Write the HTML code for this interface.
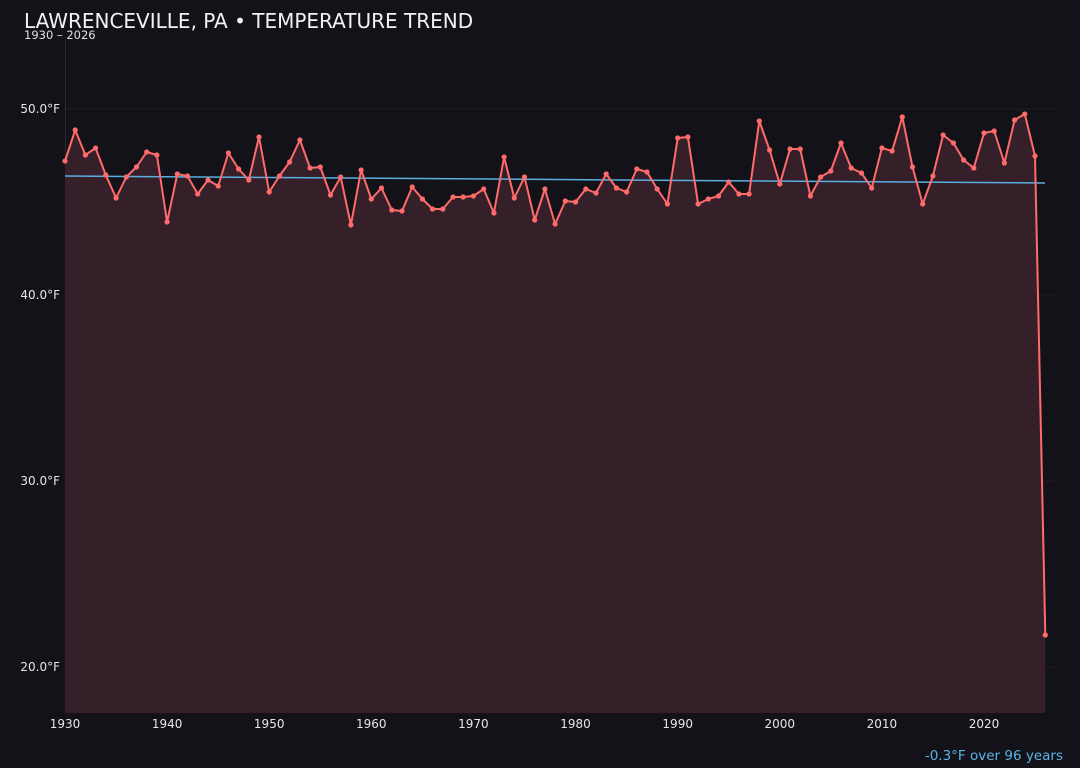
<!DOCTYPE html>
<html><head><meta charset="utf-8"><style>
html,body{margin:0;padding:0;background:#131218;}
body{width:1080px;height:768px;overflow:hidden;font-family:"Liberation Sans","DejaVu Sans",sans-serif;}
</style></head><body>
<svg id="s" width="1080" height="768" xmlns="http://www.w3.org/2000/svg" style="position:absolute;left:0;top:0">
<rect width="1080" height="768" fill="#131218"/>
<text x="24" y="28" fill="#f2f2f2" font-size="20" font-family="DejaVu Sans, sans-serif">LAWRENCEVILLE, PA • TEMPERATURE TREND</text>
<text x="24" y="39" fill="#e0e0e0" font-size="11.5" font-family="DejaVu Sans, sans-serif">1930 – 2026</text>
<g stroke="#221d24" stroke-width="1">
<line x1="65" x2="1055" y1="109" y2="109"/><line x1="65" x2="1055" y1="295" y2="295"/>
<line x1="65" x2="1055" y1="481" y2="481"/><line x1="65" x2="1055" y1="667" y2="667"/>
</g>
<line x1="65.5" x2="65.5" y1="40" y2="713" stroke="#2a2830"/>
<g fill="#e6e6e6" font-size="12" font-family="DejaVu Sans, sans-serif" text-anchor="end">
<text x="60" y="113">50.0°F</text><text x="60" y="299">40.0°F</text>
<text x="60" y="485">30.0°F</text><text x="60" y="671">20.0°F</text>
</g>
<g id="xt" fill="#e6e6e6" font-size="12" font-family="DejaVu Sans, sans-serif" text-anchor="middle"></g>
<path id="area" fill="#35202a"/>
<line x1="65" y1="176" x2="1045" y2="183" stroke="#5aaee0" stroke-width="1.5"/>
<path id="ln" fill="none" stroke="#ff6b6b" stroke-width="2" stroke-linejoin="round"/>
<g id="dots" fill="#ff6b6b"></g>
<text x="1063" y="760" fill="#5ab4e6" font-size="13.5" font-family="DejaVu Sans, sans-serif" text-anchor="end">-0.3°F over 96 years</text>
</svg>
<script>
var ys=[161,130,155,148,175,198,177,167,152,155,222,174,176,194,180,186,153,169,180,137,192,176,162,140,168,167,195,177,225,170,199,188,210,211,187,199,209,209,197,197,196,189,213,157,198,177,220,189,224,201,202,189,193,174,188,192,169,172,189,204,138,137,204,199,196,182,194,194,121,150,184,149,149,196,177,171,143,168,173,188,148,151,117,167,204,176,135,143,160,168,133,131,163,120,114,156,635];
var d="",dots="",ns="http://www.w3.org/2000/svg";
for(var i=0;i<ys.length;i++){var x=65+i*10.211;d+=(i?"L":"M")+x.toFixed(1)+","+ys[i];dots+='<circle cx="'+x.toFixed(1)+'" cy="'+ys[i]+'" r="2.6"/>';}
document.getElementById("ln").setAttribute("d",d);
document.getElementById("area").setAttribute("d",d+"L"+(65+96*10.211).toFixed(1)+",713L65,713Z");
document.getElementById("dots").innerHTML=dots;
var t="";for(var y=1930;y<=2020;y+=10){t+='<text x="'+(65+(y-1930)*10.211).toFixed(1)+'" y="728">'+y+'</text>';}
document.getElementById("xt").innerHTML=t;
</script>
</body></html>
